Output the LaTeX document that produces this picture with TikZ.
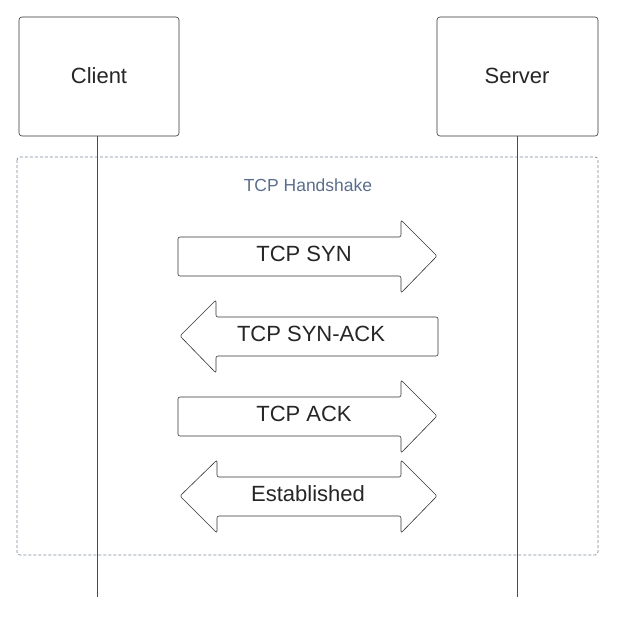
\documentclass[tikz,border=0pt]{standalone}
\usepackage{fontspec}
\setmainfont{Liberation Sans}
\definecolor{hsblue}{HTML}{5A6E8C}
\definecolor{dashg}{HTML}{7A8698}
\begin{document}
\begin{tikzpicture}[x=1pt,y=-1pt,
  box/.style={draw=black!80,line width=0.6pt,rounded corners=3pt},
  arr/.style={draw=black!80,fill=white,line width=0.6pt,rounded corners=2pt},
  lbl/.style={font=\fontsize{22}{26}\selectfont,text=black!85},
  life/.style={draw=black!70,line width=0.5pt}]
\useasboundingbox (0,0) rectangle (620,618);
\draw[draw=dashg,line width=0.7pt,rounded corners=3pt,dash pattern=on 3pt off 2pt] (17,157) rectangle (598,555);
\node[text=hsblue,font=\fontsize{17.5}{20}\selectfont] (hs) at (308,185) {TCP Handshake};
\draw[box] (19,17) rectangle (179,136);
\node[lbl] (client) at (99,76) {Client};
\draw[box] (437,17) rectangle (598,136);
\node[lbl] (server) at (517,76) {Server};
\coordinate (cb) at (97,136); \coordinate (ce) at (97,597);
\coordinate (sb) at (517,136); \coordinate (se) at (517,597);
\draw[life] (cb) -- (ce);
\draw[life] (sb) -- (se);
% SYN
\draw[arr] (178,237) -- (401,237) -- (401,220) -- (437,256) -- (401,293) -- (401,276) -- (178,276) -- cycle;
\node[lbl] (syn) at (304,254) {TCP SYN};
% SYN-ACK
\draw[arr] (438,317) -- (216,317) -- (216,300) -- (180,336) -- (216,373) -- (216,356) -- (438,356) -- cycle;
\node[lbl] (synack) at (311,334) {TCP SYN-ACK};
% ACK
\draw[arr] (178,397) -- (401,397) -- (401,380) -- (437,416) -- (401,453) -- (401,436) -- (178,436) -- cycle;
\node[lbl] (ack) at (304,414) {TCP ACK};
% Established
\draw[arr] (217,477) -- (401,477) -- (401,460) -- (437,496) -- (401,533) -- (401,516) -- (217,516) -- (217,533) -- (180,496) -- (217,460) -- cycle;
\node[lbl] (est) at (308,494) {Established};
\end{tikzpicture}
\end{document}
